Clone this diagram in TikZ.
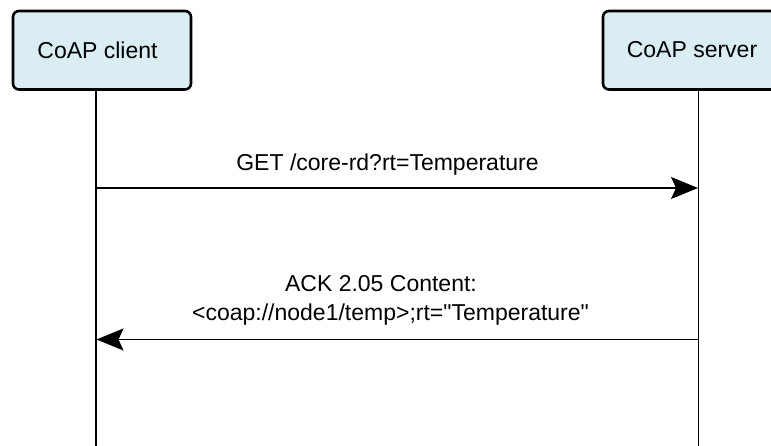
\documentclass[tikz,border=0pt]{standalone}
\usepackage{fontspec}
\setmainfont{Liberation Sans}[Ligatures=TeXOff]
\usetikzlibrary{arrows.meta}
\definecolor{actorfill}{RGB}{218,237,243}
\tikzset{
  actor/.style={draw=black, line width=2.6pt, fill=actorfill, rounded corners=6pt},
  lifeline/.style={draw=black, line width=1.3pt},
  msg/.style={draw=black, line width=1.6pt, -{Stealth[length=27pt,width=22pt,inset=5pt]}},
  lbl/.style={font=\fontsize{23}{28}\selectfont, inner sep=0pt, anchor=base},
}
\begin{document}
\begin{tikzpicture}[x=1pt,y=-1pt]
  \useasboundingbox (0,0) rectangle (771,446);
  % participants
  \draw[actor] (13,11) rectangle (191,89.5);
  \draw[actor] (603,11) rectangle (781,89.5);
  \node[lbl, anchor=center] (client) at (97.5,50) {CoAP client};
  \node[lbl, anchor=center] (server) at (692,50) {CoAP server};
  % lifelines
  \coordinate (ctop) at (96,90.5);
  \coordinate (cbot) at (96,450);
  \coordinate (stop) at (698.5,90.5);
  \coordinate (sbot) at (698.5,450);
  \draw[lifeline] (ctop) -- (cbot);
  \draw[lifeline] (stop) -- (sbot);
  % message points on the lifelines
  \coordinate (req0) at (96,188);
  \coordinate (req1) at (698,188);
  \coordinate (rsp0) at (698,339.5);
  \coordinate (rsp1) at (96.5,339.5);
  \draw[msg] (req0) -- (req1);
  \draw[msg] (rsp0) -- (rsp1);
  % message labels
  \node[lbl] (getlbl) at (387.5,170.5) {GET /core-rd?rt=Temperature};
  \node[lbl] (acklbl) at (381,291) {ACK 2.05 Content:};
  \node[lbl] (linklbl) at (390.5,320.5) {<coap://node1/temp>;rt="Temperature"};
\end{tikzpicture}
\end{document}
